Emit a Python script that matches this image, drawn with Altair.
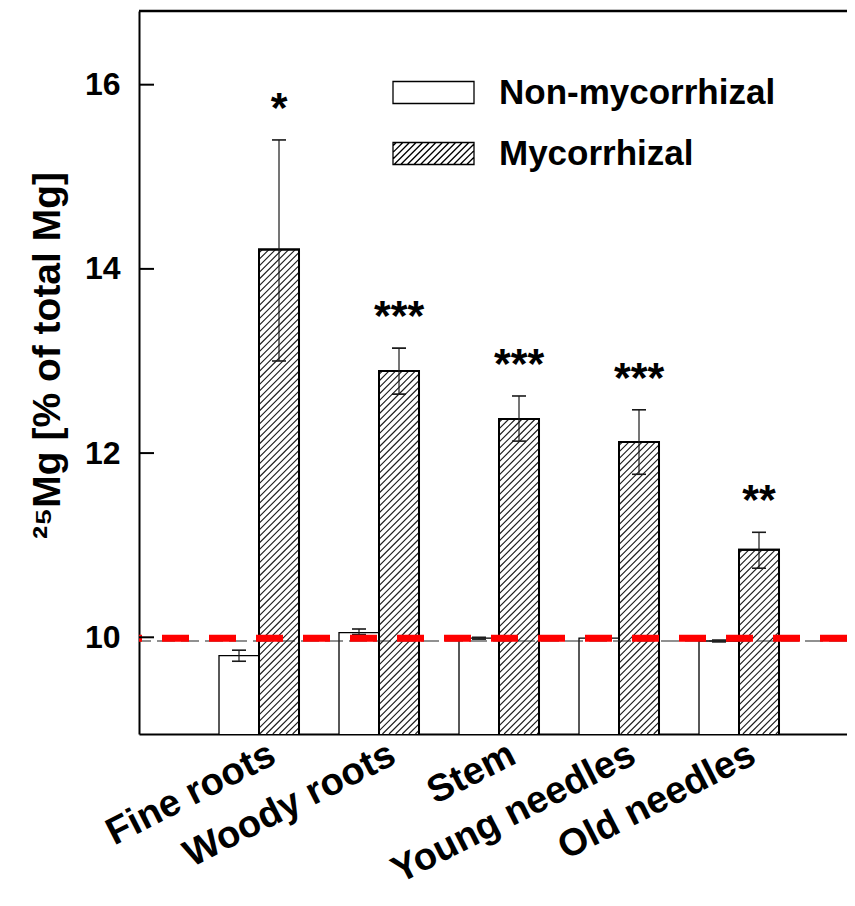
import altair as alt

# ---------------- data ----------------
categories = ["Fine roots", "Woody roots", "Stem", "Young needles", "Old needles"]
groups = ["Non-mycorrhizal", "Mycorrhizal"]
non_myc = [9.80, 10.05, 9.99, 9.99, 9.96]
non_myc_lo = [9.74, 10.03, 9.98, 9.97, 9.95]
non_myc_hi = [9.86, 10.09, 10.00, 10.01, 9.97]
myc = [14.21, 12.89, 12.37, 12.12, 10.95]
myc_lo = [13.00, 12.64, 12.13, 11.77, 10.75]
myc_hi = [15.40, 13.14, 12.62, 12.47, 11.14]
stars = ["*", "***", "***", "***", "**"]
y_ticks = [10, 12, 14, 16]
y_domain = [8.95, 16.8]
natural_level = [9.99]     # red dashed reference
baseline_level = [9.96]    # thin black dashed reference

# ---------------- layout / style ----------------
W, H = 708, 723
FONT = "Liberation Sans"
STEP = W / 5.9
BAR_W = STEP / 3
STRIPE_P = 6.6      # horizontal period of the hatching, px


def hatch_lines(w, h, period, phase=0.5):
    """'/' hatching segments clipped to a w x h box centred on (0,0), pixel units."""
    segs = []
    c = -w / 2 - h / 2 + period * phase
    while c < w / 2 + h / 2:
        xa = max(-w / 2, c - h / 2)
        xb = min(w / 2, c + h / 2)
        if xb - xa > 0.3:
            segs.append(f"M{xa:.2f},{c - xa:.2f}L{xb:.2f},{c - xb:.2f}")
        c += period
    return "".join(segs)


def bar_hatch(value):
    h = (value - y_domain[0]) / (y_domain[1] - y_domain[0]) * H
    return hatch_lines(BAR_W, h, STRIPE_P)


records = []
for i, c in enumerate(categories):
    records.append({"category": c, "group": groups[0], "value": non_myc[i],
                    "lo": non_myc_lo[i], "hi": non_myc_hi[i], "star": "",
                    "sw": 1.3, "hatch": ""})
    records.append({"category": c, "group": groups[1], "value": myc[i],
                    "lo": myc_lo[i], "hi": myc_hi[i], "star": stars[i],
                    "sw": 2.0, "hatch": bar_hatch(myc[i])})
data = alt.Data(values=records)

# legend swatch shapes (custom symbol paths in [-1, 1] units, 81 px wide)
SW_W, SW_H = 81, 22
u = 2 / SW_W
rect_path = f"M-1,{-SW_H * u / 2:.4f}L1,{-SW_H * u / 2:.4f}L1,{SW_H * u / 2:.4f}L-1,{SW_H * u / 2:.4f}Z"
hatch_unit = []
for segm in hatch_lines(SW_W, SW_H, STRIPE_P).split("M")[1:]:
    p0, p1 = segm.split("L")
    xa, ya = (float(v) * u for v in p0.split(","))
    xb, yb = (float(v) * u for v in p1.split(","))
    hatch_unit.append(f"M{xa:.4f},{ya:.4f}L{xb:.4f},{yb:.4f}")
hatch_path = rect_path + "".join(hatch_unit)

XSCALE = alt.Scale(domain=categories, paddingInner=0, paddingOuter=0.45, align=0.5556)
YSCALE = alt.Scale(domain=y_domain, zero=False, nice=False)


# ---------------- encodings ----------------
def xenc(axis=False):
    if axis:
        return alt.X("category:N", sort=categories, scale=XSCALE, title=None)
    return alt.X("category:N", sort=categories, scale=XSCALE)


def xoff():
    return alt.XOffset("group:N", sort=groups,
                       scale=alt.Scale(domain=groups, paddingInner=0, paddingOuter=0.5))


def yenc(field, axis=False):
    if axis:
        return alt.Y(field, scale=YSCALE,
                     axis=alt.Axis(title="²⁵Mg [% of total Mg]", values=y_ticks,
                                   format="d", titleY=344))
    return alt.Y(field, scale=YSCALE)


base = alt.Chart(data)

bars = base.mark_bar(fill="white", stroke="black", clip=True).encode(
    x=xenc(True), xOffset=xoff(), y=yenc("value:Q", True),
    strokeWidth=alt.StrokeWidth("sw:Q", scale=None, legend=None),
)

hatch = base.transform_filter(alt.datum.group == groups[1]).transform_calculate(
    mid=f"(datum.value + {y_domain[0]}) / 2"
).mark_point(filled=False, size=4, color="#1e1e1e", strokeWidth=1.15, opacity=1).encode(
    x=xenc(), xOffset=xoff(), y=yenc("mid:Q"),
    shape=alt.Shape("hatch:N", scale=None, legend=None),
)

outline = base.transform_filter(alt.datum.group == groups[1]).mark_bar(
    fill="white", fillOpacity=0, stroke="black", strokeWidth=2.0, clip=True
).encode(x=xenc(), xOffset=xoff(), y=yenc("value:Q"))

err = base.mark_rule(color="#1a1a1a", strokeWidth=1.2).encode(
    x=xenc(), xOffset=xoff(), y=yenc("lo:Q"), y2="hi:Q")

cap_lo = base.mark_tick(orient="horizontal", size=14, thickness=1.6, color="#1a1a1a",
                        opacity=1).encode(x=xenc(), xOffset=xoff(), y=yenc("lo:Q"))
cap_hi = base.mark_tick(orient="horizontal", size=14, thickness=1.6, color="#1a1a1a",
                        opacity=1).encode(x=xenc(), xOffset=xoff(), y=yenc("hi:Q"))

star_txt = base.transform_filter(alt.datum.group == groups[1]).mark_text(
    font=FONT, fontSize=43, fontWeight="bold", color="black", dy=-31, baseline="middle"
).encode(x=xenc(), xOffset=xoff(), y=yenc("hi:Q"), text="star:N")

black_line = alt.Chart(alt.Data(values=[{"level": v} for v in baseline_level])).mark_rule(
    color="#222222", strokeWidth=1.2, strokeDash=[18, 6]).encode(y=yenc("level:Q"))

red_line = alt.Chart(alt.Data(values=[{"level": v} for v in natural_level])).mark_rule(
    color="#ff0000", strokeWidth=7, strokeDash=[27, 20]).encode(y=yenc("level:Q"))

top_frame = alt.Chart(alt.Data(values=[{"level": y_domain[1]}])).mark_rule(
    color="black", strokeWidth=2.5).encode(y=yenc("level:Q"))

inner_ticks = alt.Chart(alt.Data(values=[{"t": v} for v in y_ticks])).mark_rule(
    color="black", strokeWidth=2).encode(y=yenc("t:Q"), x=alt.value(0), x2=alt.value(15))

legend_layer = base.transform_filter("false").mark_point(
    filled=False, color="black", strokeWidth=1.3, size=6561, opacity=1
).encode(
    x=xenc(), y=yenc("value:Q"),
    shape=alt.Shape("group:N", scale=alt.Scale(domain=groups, range=[rect_path, hatch_path]),
                    legend=alt.Legend(title=None, orient="none", legendX=253, legendY=40,
                                      labelFontSize=35, labelFont=FONT, labelFontWeight="bold",
                                      labelColor="black", symbolSize=6561,
                                      symbolFillColor="white", symbolStrokeColor="black",
                                      symbolStrokeWidth=1.3, symbolOpacity=1, labelOffset=24,
                                      rowPadding=1, padding=0, labelLimit=500)),
)

chart = alt.layer(
    bars, hatch, outline, err, cap_lo, cap_hi, black_line, red_line, top_frame,
    inner_ticks, star_txt, legend_layer
).resolve_scale(shape="independent").properties(
    width=W, height=H,
    autosize=alt.AutoSizeParams(type="none"),
    padding={"left": 131, "top": 3, "right": 0, "bottom": 160},
).configure(
    background="white",
).configure_view(
    stroke=None,
).configure_axisX(
    labelAngle=-27, labelAlign="right", labelBaseline="middle", labelFontSize=38,
    labelFont=FONT, labelFontWeight="bold", labelColor="black", labelOffset=14,
    labelPadding=18, ticks=False, tickSize=0, domainWidth=2, domainColor="black",
    labelLimit=500, grid=False,
).configure_axisY(
    ticks=False, tickSize=0, labelPadding=19, labelFontSize=32, labelFont=FONT,
    labelFontWeight="bold", labelColor="black", domainWidth=2, domainColor="black",
    grid=False, titleFontSize=39, titleFont=FONT, titleFontWeight="bold",
    titleColor="black", titlePadding=17, labelFlush=False,
)

chart.save("out.html", embed_options={"renderer": "svg", "actions": False})
